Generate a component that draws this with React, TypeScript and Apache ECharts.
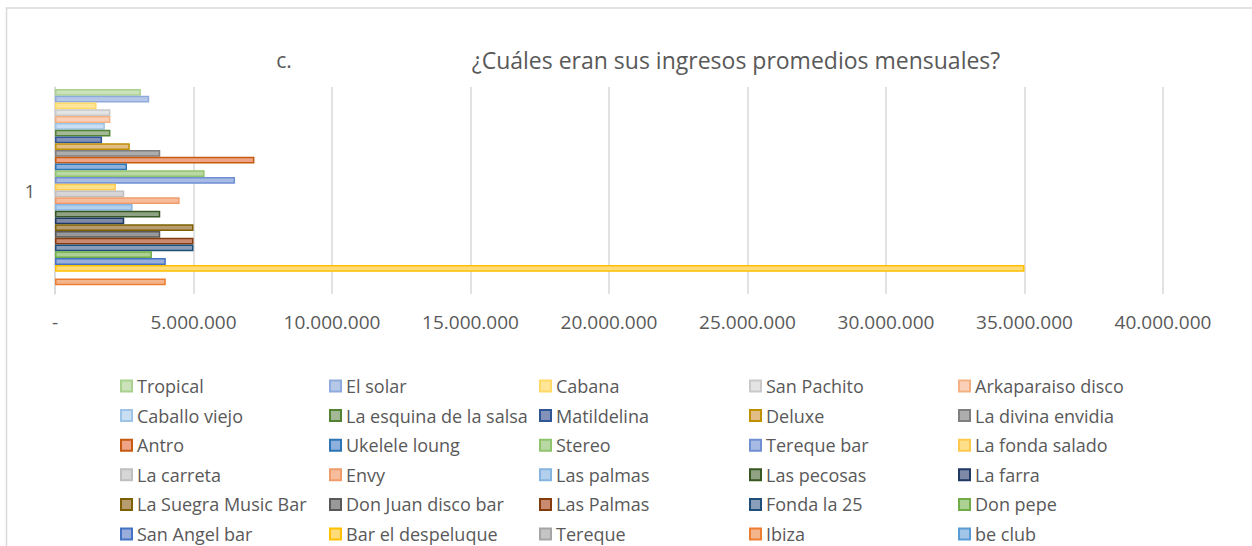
import React, { useEffect, useRef } from "react";
import * as echarts from "echarts";

const categories = ["1"];

// Legend order (row by row, 5 columns); Tropical is the top bar.
const seriesNames = [
  "Tropical", "El solar", "Cabana", "San Pachito", "Arkaparaiso disco",
  "Caballo viejo", "La esquina de la salsa", "Matildelina", "Deluxe", "La divina envidia",
  "Antro", "Ukelele loung", "Stereo", "Tereque bar", "La fonda salado",
  "La carreta", "Envy", "Las palmas", "Las pecosas", "La farra",
  "La Suegra Music Bar", "Don Juan disco bar", "Las Palmas", "Fonda la 25", "Don pepe",
  "San Angel bar", "Bar el despeluque", "Tereque", "Ibiza", "be club",
];

const seriesValues: (number | null)[] = [
  3100000, 3400000, 1500000, 2000000, 2000000,
  1800000, 2000000, 1700000, 2700000, 3800000,
  7200000, 2600000, 5400000, 6500000, 2200000,
  2500000, 4500000, 2800000, 3800000, 2500000,
  5000000, 3800000, 5000000, 5000000, 3500000,
  4000000, 35000000, null, 4000000, null,
];

const fillColors = [
  "#cbe2bb", "#b6c8e8", "#ffe597", "#e3e3e3", "#fbd0b8",
  "#c9def2", "#a3b996", "#8292b8", "#e2bd85", "#adadad",
  "#efa387", "#8db0dc", "#b9d8a3", "#a8bbe5", "#ffe08a",
  "#d6d6d6", "#f6bc9c", "#b2d0ee", "#8fa384", "#7e8aa8",
  "#b79c70", "#999999", "#c98a70", "#899ebb", "#acd193",
  "#9aaedb", "#ffdb7a", "#c4c4c4", "#f4b48c", "#a2c5e8",
];

const borderColors = [
  "#a9d18e", "#8faadc", "#ffd966", "#c9c9c9", "#f4b183",
  "#9dc3e6", "#548235", "#2f5597", "#bf9000", "#7f7f7f",
  "#c55a11", "#2e75b6", "#8fc46c", "#6f8fd2", "#ffc94d",
  "#bfbfbf", "#f09c6a", "#85b4e0", "#385723", "#203864",
  "#7f6000", "#595959", "#843c0c", "#1f4e79", "#70ad47",
  "#4472c4", "#ffc000", "#a5a5a5", "#ed7d31", "#5b9bd5",
];

const xTicks = [0, 5000000, 10000000, 15000000, 20000000, 25000000, 30000000, 35000000, 40000000];

const fmt = (v: number) =>
  v === 0 ? "-" : String(Math.round(v)).replace(/\B(?=(\d{3})+(?!\d))/g, ".");

export default function App() {
  const ref = useRef<HTMLDivElement>(null);
  useEffect(() => {
    if (!ref.current) return;
    const chart = echarts.init(ref.current, null, { renderer: "svg" });
    const font = "'Open Sans', 'Noto Sans', sans-serif";
    const textColor = "#595959";

    // first series is drawn at the top
    const series = seriesNames.map((name, i) => ({
      type: "bar",
      name,
      data: [seriesValues[i]],
      barGap: "0%",
      barCategoryGap: "2%",
      itemStyle: {
        color: fillColors[i],
        borderColor: borderColors[i],
        borderWidth: 1.5,
      },
      emphasis: { disabled: true },
    }));

    const colLefts = [120, 329, 539, 749, 958];
    const legends = colLefts.map((left, c) => ({
      orient: "vertical",
      left,
      top: 377,
      height: 175,
      padding: 0,
      itemWidth: 11,
      itemHeight: 11,
      itemGap: 11.6,
      icon: "rect",
      selectedMode: false,
      textStyle: { color: textColor, fontSize: 18, fontFamily: font, lineHeight: 18 },
      data: [0, 1, 2, 3, 4, 5].map((r) => seriesNames[r * 5 + c]),
    }));

    chart.setOption({
      animation: false,
      backgroundColor: "#ffffff",
      textStyle: { fontFamily: font },
      graphic: [
        {
          type: "rect",
          shape: { x: 6.5, y: 8, width: 1400, height: 700 },
          style: { fill: "none", stroke: "#d9d9d9", lineWidth: 1.5 },
          silent: true,
        },
        {
          type: "text",
          x: 284,
          y: 60,
          style: {
            text: "c.",
            fill: textColor,
            font: `21px ${font}`,
            textAlign: "center",
            textVerticalAlign: "middle",
          },
        },
        {
          type: "text",
          x: 736,
          y: 60,
          style: {
            text: "¿Cuáles eran sus ingresos promedios mensuales?",
            fill: textColor,
            font: `23px ${font}`,
            textAlign: "center",
            textVerticalAlign: "middle",
          },
        },
      ],
      legend: legends,
      grid: { left: 55, right: 89, top: 87, height: 207, containLabel: false },
      xAxis: {
        type: "value",
        min: xTicks[0],
        max: xTicks[xTicks.length - 1],
        interval: 5000000,
        axisLine: { show: false },
        axisTick: { show: false },
        splitLine: { show: true, lineStyle: { color: "#d9d9d9", width: 1.5 } },
        axisLabel: {
          color: textColor,
          fontSize: 19,
          fontFamily: font,
          margin: 18,
          formatter: (v: number) => fmt(v),
        },
      },
      yAxis: {
        type: "category",
        data: categories,
        axisLine: { show: true, lineStyle: { color: "#d9d9d9", width: 1.5 } },
        axisTick: { show: false },
        axisLabel: { color: textColor, fontSize: 18, fontFamily: font, margin: 20 },
      },
      series,
    });
    return () => chart.dispose();
  }, []);
  return (
    <div
      ref={ref}
      style={{ position: "fixed", left: 0, top: 0, width: 1252, height: 546 }}
    />
  );
}
